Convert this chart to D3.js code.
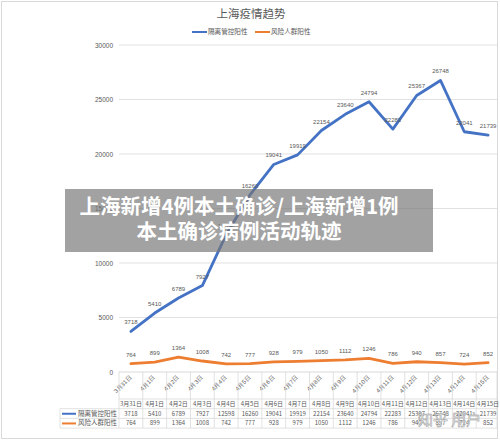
<!DOCTYPE html>
<html><head><meta charset="utf-8">
<script src="https://cdn.jsdelivr.net/npm/d3@7"></script>
<style>
html,body{margin:0;padding:0;background:#fff;}
svg{display:block;font-family:"Noto Sans CJK SC","Noto Sans",sans-serif;}
</style></head>
<body>
<svg id="c" width="500" height="442"></svg>
<script>
const dates = ["3月31日","4月1日","4月2日","4月3日","4月4日","4月5日","4月6日","4月7日","4月8日","4月9日","4月10日","4月11日","4月12日","4月13日","4月14日","4月15日"];
const isolated = [3718,5410,6789,7927,12598,16260,19041,19919,22154,23640,24794,22283,25367,26748,22041,21739];
const risk = [764,899,1364,1008,742,777,928,979,1050,1112,1246,786,940,857,724,852];
const seriesNames = ["隔离管控阳性","风险人群阳性"];
const yTicks = [0,5000,10000,15000,20000,25000,30000];
const titleText = "上海疫情趋势";
const overlayLines = ["上海新增4例本土确诊/上海新增1例","本土确诊病例活动轨迹"];

const colors = ["#4472C4","#ED7D31"];
const svg = d3.select("#c");
const gray = "#595959";

// outer border
svg.append("rect").attr("x",1.5).attr("y",1.5).attr("width",496).attr("height",437)
  .attr("fill","#fff").attr("stroke","#d9d9d9");

const x = d3.scaleBand().domain(dates).range([119,500]);
const y = d3.scaleLinear().domain([0,30000]).range([372,45]);
const cx = d => x(d) + x.bandwidth()/2;

// gridlines
svg.append("g").selectAll("line").data(yTicks.slice(1)).join("line")
  .attr("x1",119).attr("x2",497).attr("y1",d=>y(d)).attr("y2",d=>y(d))
  .attr("stroke","#d9d9d9").attr("stroke-width",0.8);

// y axis labels
const yAxis = d3.axisLeft(y).tickValues(yTicks).tickFormat(d3.format("d")).tickSize(0).tickPadding(0);
const ya = svg.append("g").attr("transform","translate(113,0)").call(yAxis);
ya.select(".domain").remove();
ya.selectAll("text").attr("fill",gray).attr("font-size",6.5).attr("font-family","Liberation Sans, sans-serif");

// x axis line
svg.append("line").attr("x1",119).attr("x2",497).attr("y1",y(0)).attr("y2",y(0)).attr("stroke","#d9d9d9");

// x tick labels rotated
const xAxis = d3.axisBottom(x).tickSize(0).tickPadding(0);
const xa = svg.append("g").attr("transform","translate(0,"+y(0)+")").call(xAxis);
xa.select(".domain").remove();
xa.selectAll("text")
  .attr("fill",gray).attr("font-size",6).attr("text-anchor","end")
  .attr("dy",0).attr("y",0)
  .attr("transform","translate(1,6) rotate(-45)");

// table
const tTop = 399, rh = 9.7;
const tb = svg.append("g");
const bounds = dates.map(d=>x(d)).concat([497]);
tb.selectAll("line.v").data(bounds).join("line").attr("class","v")
  .attr("x1",d=>d).attr("x2",d=>d).attr("y1",y(0)).attr("y2",tTop+3*rh)
  .attr("stroke","#d9d9d9").attr("stroke-width",0.8);
tb.append("line").attr("x1",60).attr("x2",60).attr("y1",tTop+rh).attr("y2",tTop+3*rh).attr("stroke","#d9d9d9").attr("stroke-width",0.8);
[[119,tTop],[60,tTop+rh],[60,tTop+2*rh],[60,tTop+3*rh]].forEach(([x0,yy])=>{
  tb.append("line").attr("x1",x0).attr("x2",497).attr("y1",yy).attr("y2",yy).attr("stroke","#d9d9d9").attr("stroke-width",0.8);
});
tb.selectAll("text.h").data(dates).join("text").attr("class","h")
  .attr("x",d=>cx(d)).attr("y",tTop+rh/2+2.2).attr("text-anchor","middle")
  .attr("font-size",6).attr("fill",gray).text(d=>d);
[isolated,risk].forEach((arr,si)=>{
  const yy = tTop+(si+1)*rh+rh/2+2.2;
  tb.selectAll("text.r"+si).data(arr).join("text").attr("class","r"+si)
    .attr("x",(d,i)=>cx(dates[i])).attr("y",yy).attr("text-anchor","middle")
    .attr("font-size",6).attr("fill",gray).text(d=>d);
  tb.append("line").attr("x1",62).attr("x2",76).attr("y1",yy-2).attr("y2",yy-2)
    .attr("stroke",colors[si]).attr("stroke-width",2);
  tb.append("text").attr("x",117).attr("y",yy).attr("text-anchor","end")
    .attr("font-size",6.5).attr("fill",gray).text(seriesNames[si]);
});

// lines
const line = d3.line().x((d,i)=>cx(dates[i])).y(d=>y(d));
[isolated,risk].forEach((arr,si)=>{
  svg.append("path").datum(arr).attr("d",line).attr("fill","none")
    .attr("stroke",colors[si]).attr("stroke-width",2.8).attr("stroke-linejoin","round").attr("stroke-linecap","round");
  svg.append("g").selectAll("text").data(arr).join("text")
    .attr("x",(d,i)=>cx(dates[i])).attr("y",d=>y(d)-7)
    .attr("text-anchor","middle").attr("font-size",6).attr("fill",gray)
    .attr("font-family","Liberation Sans, sans-serif").text(d=>d);
});

// title
svg.append("text").attr("x",251).attr("y",18).attr("text-anchor","middle")
  .attr("font-size",11.5).attr("fill",gray).text(titleText);

// legend
const lg = [[192,seriesNames[0],colors[0]],[255,seriesNames[1],colors[1]]];
lg.forEach(([lx,name,c])=>{
  svg.append("line").attr("x1",lx).attr("x2",lx+15).attr("y1",32).attr("y2",32).attr("stroke",c).attr("stroke-width",2);
  svg.append("text").attr("x",lx+16).attr("y",34.3).attr("font-size",6.6).attr("fill",gray).text(name);
});

// overlay banner
svg.append("rect").attr("x",65).attr("y",189).attr("width",368).attr("height",63)
  .attr("fill","rgba(118,118,118,0.68)");
overlayLines.forEach((t,i)=>{
  svg.append("text").attr("x",239).attr("y",214+i*25).attr("text-anchor","middle")
    .attr("font-size",20.5).attr("font-weight","bold").attr("fill","#fff").text(t);
});

// watermark
svg.append("text").attr("x",418).attr("y",425).attr("font-size",15)
  .attr("fill","#f2f2f2").attr("stroke","#9a9a9a").attr("stroke-width",0.5).text("知乎 用户");
</script>
</body></html>
